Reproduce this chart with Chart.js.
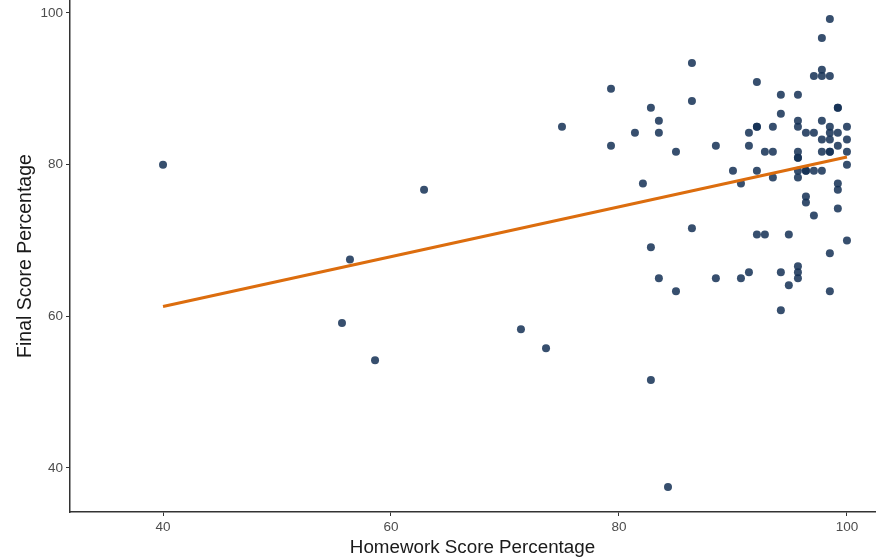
<!DOCTYPE html>
<html>
<head>
<meta charset="utf-8">
<script src="https://cdn.jsdelivr.net/npm/chart.js@4/dist/chart.umd.min.js"></script>
<style>
  html, body { margin: 0; padding: 0; background: #ffffff; }
  canvas { display: block; }
</style>
</head>
<body>
<canvas id="chart" width="877" height="560"></canvas>
<script>
// Homework score (%) per student
const homework = [
  40.0, 56.4, 55.7, 58.6, 62.9, 71.4, 73.6, 75.0, 79.3, 79.3,
  81.4, 82.1, 82.8, 82.8, 82.8, 83.5, 83.5, 83.5, 84.3, 85.0,
  85.0, 86.4, 86.4, 86.4, 88.5, 88.5, 90.0, 90.7, 90.7, 91.4,
  91.4, 91.4, 92.1, 92.1, 92.1, 92.1, 92.1, 92.8, 92.8, 93.5,
  93.5, 93.5, 94.2, 94.2, 94.2, 94.2, 94.9, 94.9, 95.7, 95.7,
  95.7, 95.7, 95.7, 95.7, 95.7, 95.7, 95.7, 95.7, 95.7, 96.4,
  96.4, 96.4, 96.4, 96.4, 97.1, 97.1, 97.1, 97.1, 97.8, 97.8,
  97.8, 97.8, 97.8, 97.8, 97.8, 98.5, 98.5, 98.5, 98.5, 98.5,
  98.5, 98.5, 98.5, 98.5, 99.2, 99.2, 99.2, 99.2, 99.2, 99.2,
  99.2, 100.0, 100.0, 100.0, 100.0, 100.0
];
// Final exam score (%) per student, same order
const finalScore = [
  80.0, 67.5, 59.1, 54.2, 76.7, 58.3, 55.8, 85.0, 90.0, 82.5,
  84.2, 77.5, 87.5, 69.1, 51.6, 85.8, 84.2, 65.0, 37.5, 81.7,
  63.3, 93.4, 88.4, 71.6, 82.5, 65.0, 79.2, 77.5, 65.0, 84.2,
  82.5, 65.8, 90.9, 85.0, 85.0, 79.2, 70.8, 81.7, 70.8, 85.0,
  81.7, 78.3, 89.2, 86.7, 65.8, 60.8, 70.8, 64.1, 89.2, 85.8,
  85.0, 81.7, 80.9, 80.9, 79.2, 78.3, 66.6, 65.8, 65.0, 84.2,
  79.2, 79.2, 75.8, 75.0, 91.7, 84.2, 79.2, 73.3, 96.7, 92.5,
  91.7, 85.8, 83.3, 81.7, 79.2, 99.2, 91.7, 85.0, 84.2, 83.3,
  81.7, 81.7, 68.3, 63.3, 87.5, 87.5, 84.2, 82.5, 77.5, 76.7,
  74.2, 85.0, 83.3, 81.7, 80.0, 70.0
];
// Least-squares fit line endpoints
const fitX = [40, 100];
const fitY = [61.3, 81.0];

const xTicks = [40, 60, 80, 100];
const yTicks = [40, 60, 80, 100];

const points = homework.map((h, i) => ({ x: h, y: finalScore[i] }));
const fitLine = fitX.map((x, i) => ({ x: x, y: fitY[i] }));

const family = 'Liberation Sans, Arial, sans-serif';
const tickFont = { family: family, size: 13.5 };

new Chart(document.getElementById('chart'), {
  type: 'scatter',
  data: {
    datasets: [
      {
        type: 'line',
        data: fitLine,
        borderColor: '#dc6d0e',
        borderWidth: 3,
        pointRadius: 0,
        fill: false,
        tension: 0
      },
      {
        data: points,
        backgroundColor: 'rgba(20,48,85,0.85)',
        borderWidth: 0,
        pointRadius: 4,
        pointHoverRadius: 4
      }
    ]
  },
  options: {
    responsive: false,
    animation: false,
    layout: { autoPadding: false, padding: { top: 0, right: 2, bottom: 0, left: 0 } },
    plugins: {
      legend: { display: false },
      tooltip: { enabled: false }
    },
    scales: {
      x: {
        type: 'linear',
        min: 31.84,
        max: 102.46,
        afterBuildTicks: s => { s.ticks = xTicks.map(v => ({ value: v })); },
        afterFit: s => { s.height = 48; s.paddingLeft = 0; s.paddingRight = 0; },
        grid: { drawOnChartArea: false, drawTicks: true, tickLength: 4, color: '#333333', lineWidth: 1 },
        border: { display: true, color: '#333333', width: 1.5 },
        ticks: { font: tickFont, color: '#4d4d4d', padding: 3, maxRotation: 0 },
        title: { display: true, text: 'Homework Score Percentage', font: { family: family, size: 18.8 }, color: '#1a1a1a', padding: { top: 0, bottom: 1 } }
      },
      y: {
        type: 'linear',
        min: 34.19,
        max: 101.71,
        afterBuildTicks: s => { s.ticks = yTicks.map(v => ({ value: v })); },
        afterFit: s => { s.width = 70; s.paddingTop = 0; s.paddingBottom = 0; },
        grid: { drawOnChartArea: false, drawTicks: true, tickLength: 4, color: '#333333', lineWidth: 1 },
        border: { display: true, color: '#333333', width: 1.5 },
        ticks: { font: tickFont, color: '#4d4d4d', padding: 3 },
        title: { display: true, text: 'Final Score Percentage', font: { family: family, size: 19.5 }, color: '#1a1a1a', padding: { top: 14, bottom: 0 } }
      }
    }
  }
});
</script>
</body>
</html>
